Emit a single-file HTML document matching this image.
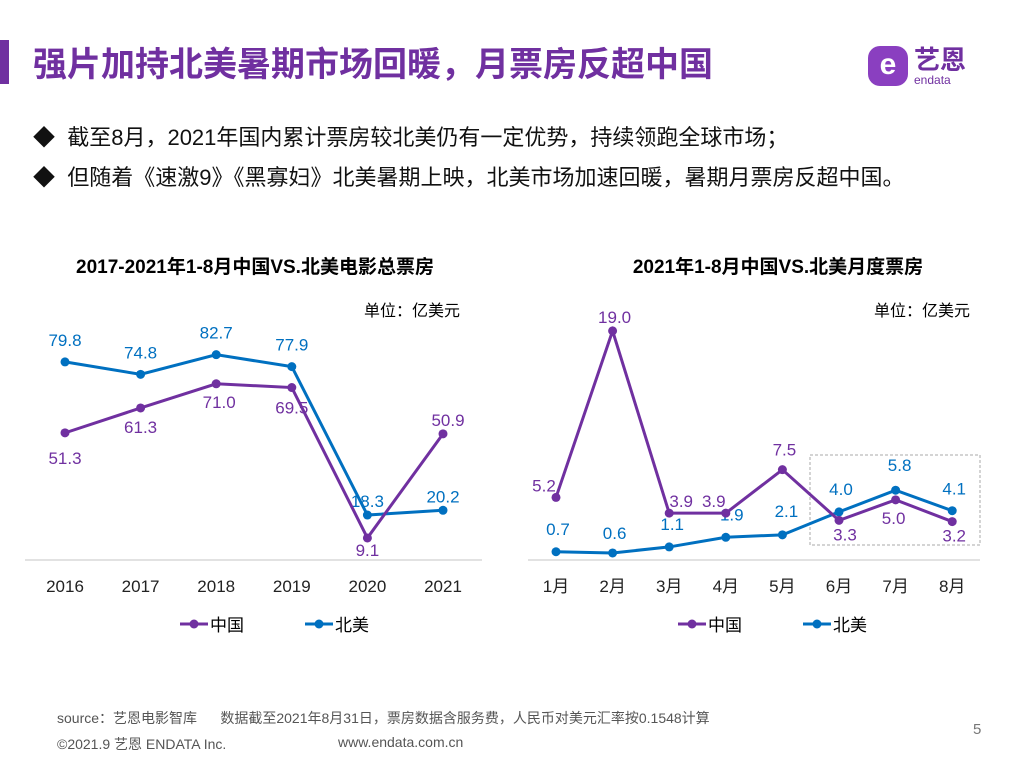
<!DOCTYPE html>
<html><head><meta charset="utf-8"><style>
body{margin:0;width:1024px;height:768px;background:#fff;font-family:"Liberation Sans","Noto Sans CJK SC",sans-serif;position:relative;overflow:hidden}
.abs{position:absolute;white-space:nowrap}
</style></head><body>
<div class="abs" style="left:0;top:40px;width:9px;height:44px;background:#7030a0"></div>
<div class="abs" style="left:33px;top:37px;font-size:34px;font-weight:bold;color:#7030a0">强片加持北美暑期市场回暖，月票房反超中国</div>
<div class="abs" style="left:868px;top:40px;width:120px;height:50px">
 <div style="position:absolute;left:0;top:6px;width:40px;height:40px;border-radius:12px;background:#8a3fc0;color:#fff;font-size:30px;font-weight:bold;text-align:center;line-height:38px">e</div>
 <div style="position:absolute;left:46px;top:0;font-size:26px;font-weight:bold;color:#7030a0">艺恩</div>
 <div style="position:absolute;left:46px;top:33px;font-size:12px;color:#7030a0">endata</div>
</div>
<div class="abs" style="left:33px;top:120px;font-size:22px;color:#111">◆ &nbsp;截至8月，2021年国内累计票房较北美仍有一定优势，持续领跑全球市场；</div>
<div class="abs" style="left:33px;top:160px;font-size:22px;color:#111">◆ &nbsp;但随着《速激9》《黑寡妇》北美暑期上映，北美市场加速回暖，暑期月票房反超中国。</div>
<svg id="chart" width="1024" height="768" style="position:absolute;left:0;top:0"></svg>
<div class="abs" style="left:57px;top:708px;font-size:14px;color:#555">source：艺恩电影智库 &nbsp; &nbsp; &nbsp;数据截至2021年8月31日，票房数据含服务费，人民币对美元汇率按0.1548计算</div>
<div class="abs" style="left:57px;top:734px;font-size:14px;color:#555">©2021.9 艺恩 ENDATA Inc.</div>
<div class="abs" style="left:338px;top:734px;font-size:14px;color:#555">www.endata.com.cn</div>
<div class="abs" style="left:973px;top:721px;font-size:15px;color:#777">5</div>
<script>
const yearCats=["2016","2017","2018","2019","2020","2021"];
const yearChina=[51.3,61.3,71.0,69.5,9.1,50.9];
const yearNA=[79.8,74.8,82.7,77.9,18.3,20.2];
const monthCats=["1月","2月","3月","4月","5月","6月","7月","8月"];
const monthChina=[5.2,19.0,3.9,3.9,7.5,3.3,5.0,3.2];
const monthNA=[0.7,0.6,1.1,1.9,2.1,4.0,5.8,4.1];
const PURPLE="#7030a0",BLUE="#0070c0";
const svg=document.getElementById('chart');
function el(tag,attrs,txt){const e=document.createElementNS("http://www.w3.org/2000/svg",tag);for(const k in attrs)e.setAttribute(k,attrs[k]);if(txt!=null)e.textContent=txt;svg.appendChild(e);return e;}
function t(x,y,s,o){const e=el('text',Object.assign({x:x,y:y,'font-size':15,'text-anchor':'middle','font-family':'Liberation Sans, Noto Sans CJK SC, sans-serif'},o||{}),s);return e;}
function chart(cfg){
  const xs=i=>cfg.x0+i*cfg.step, ys=v=>cfg.zero-v*cfg.scale;
  const ttl=t(cfg.titleX,273,cfg.title,{'font-weight':'bold','font-size':19});
  
  const u=t(cfg.unitX,316,"单位：亿美元",{'font-size':16,'text-anchor':'end'});
  
  const ax=el('line',{x1:cfg.ax0,x2:cfg.ax1,y1:560,y2:560,stroke:'#d9d9d9','stroke-width':1.5});
  
  cfg.cats.forEach((c,i)=>{const e=t(xs(i),592,c,{'font-size':17,fill:'#222'});
    });
  if(cfg.box){const b=el('rect',{x:cfg.box[0],y:cfg.box[1],width:cfg.box[2],height:cfg.box[3],fill:'none',stroke:'#aaa','stroke-dasharray':'3,2'});
    }
  [[cfg.na,BLUE,'north-america',cfg.naOff],[cfg.cn,PURPLE,'china',cfg.cnOff]].forEach(([vals,col,nm,off])=>{
    const p=el('polyline',{points:vals.map((v,i)=>xs(i)+','+ys(v)).join(' '),fill:'none',stroke:col,'stroke-width':3});
    
    vals.forEach((v,i)=>{const c=el('circle',{cx:xs(i),cy:ys(v),r:4.5,fill:col});
      
      const o=off[i];const l=t(xs(i)+o[0],ys(v)+o[1],v.toFixed(1),{fill:col,'font-size':17});
      });
  });
  [[PURPLE,'中国',cfg.lg[0]],[BLUE,'北美',cfg.lg[1]]].forEach(([col,s,x])=>{
    const l=el('line',{x1:x,x2:x+28,y1:624,y2:624,stroke:col,'stroke-width':3});
    
    el('circle',{cx:x+14,cy:624,r:4.5,fill:col});
    const e=t(x+30,631,s,{'text-anchor':'start','font-size':17});
    });
}
chart({key:'annual',title:'2017-2021年1-8月中国VS.北美电影总票房',titleX:255,unitX:460,x0:65,step:75.6,zero:560.6,scale:2.49,ax0:25,ax1:482,
 cats:yearCats,cn:yearChina,na:yearNA,lg:[180,305],
 cnOff:[[0,31],[0,25],[3,24],[0,26],[0,18],[5,-8]],naOff:[[0,-16],[0,-16],[0,-16],[0,-16],[0,-8],[0,-8]]});
chart({key:'monthly',title:'2021年1-8月中国VS.北美月度票房',titleX:778,unitX:970,x0:556,step:56.6,zero:560.2,scale:12.07,ax0:528,ax1:980,
 cats:monthCats,cn:monthChina,na:monthNA,lg:[678,803],box:[810,455,170,90],
 cnOff:[[-12,-6],[2,-8],[12,-6],[-12,-6],[2,-14],[6,20],[-2,24],[2,20]],naOff:[[2,-17],[2,-14],[3,-17],[6,-17],[4,-18],[2,-17],[4,-19],[2,-16]]});
</script>
</body></html>
